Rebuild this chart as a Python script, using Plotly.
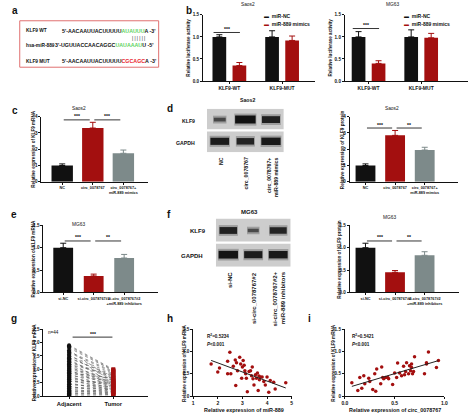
import plotly.graph_objects as go
import numpy as np

W, H = 474, 419
def X(px): return px / W
def Y(py): return 1 - py / H

BLACK = '#111111'
RED = '#a30f0f'
GRAY = '#7d8a8a'
FONT = 'Liberation Sans, Arial, sans-serif'

# ---------------- data ----------------
b_groups = ['KLF9-WT', 'KLF9-MUT']
b_series = ['miR-NC', 'miR-889 mimics']
b_saos2_nc = [1.00, 1.00]
b_saos2_nc_err = [0.05, 0.14]
b_saos2_mim = [0.35, 0.92]
b_saos2_mim_err = [0.07, 0.10]
b_mg63_nc = [1.00, 1.00]
b_mg63_nc_err = [0.12, 0.16]
b_mg63_mim = [0.40, 0.98]
b_mg63_mim_err = [0.06, 0.10]

c_labels = ['NC', 'circ_0078767', 'circ_0078767+<br>miR-889 mimics']
c_values = [1.00, 3.30, 1.75]
c_err = [0.10, 0.35, 0.20]
c_sig = [(0, 1, '***', 3.8), (1, 2, '***', 3.8)]

d_labels = ['NC', 'circ_0078767', 'circ_0078767+<br>miR-889 mimics']
d_values = [1.00, 2.85, 1.95]
d_err = [0.10, 0.30, 0.17]
d_sig = [(0, 1, '***', 3.3), (1, 2, '**', 3.3)]

e_labels = ['si-NC', 'si-circ_0078767#2', 'si-circ_0078767#2<br>+miR-889 inhibitors']
e_values = [1.00, 0.37, 0.77]
e_err = [0.10, 0.04, 0.08]
e_sig = [(0, 1, '***', 1.15), (1, 2, '**', 1.15)]

f_values = [1.00, 0.45, 0.83]
f_err = [0.10, 0.04, 0.08]
f_sig = [(0, 1, '***', 1.15), (1, 2, '**', 1.15)]

blot_d_lanes = ['NC', 'circ_0078767', 'circ_0078767+<br>miR-889 mimics']
blot_d_klf9 = [0.30, 1.00, 0.80]
blot_d_gapdh = [0.85, 0.75, 0.90]
blot_f_lanes = ['si-NC', 'si-circ_0078767#2', 'si-circ_0078767#2+<br>miR-889 inhibitors']
blot_f_klf9 = [0.80, 0.25, 0.75]
blot_f_gapdh = [0.95, 0.85, 0.90]

g_groups = ['Adjacent', 'Tumor']
g_adjacent = [1.90, 1.86, 1.80, 1.71, 1.66, 1.62, 1.55, 1.51, 1.44, 1.41, 1.37, 1.30,
              1.28, 1.22, 1.19, 1.14, 1.11, 1.05, 1.02, 0.97, 0.95, 0.89, 0.86, 0.83,
              0.77, 0.75, 0.70, 0.65, 0.63, 0.57, 0.55, 0.50, 0.45, 0.43, 0.37, 0.35,
              0.30, 0.27, 0.21, 0.19, 0.13, 0.11, 0.07, 0.04]
g_tumor = [1.00, 0.97, 0.95, 0.61, 0.92, 0.88, 0.55, 0.84, 0.74, 0.80, 0.50, 0.71,
           0.66, 0.45, 0.78, 0.58, 0.41, 0.62, 0.52, 0.35, 0.48, 0.42, 0.68, 0.31,
           0.56, 0.25, 0.38, 0.44, 0.21, 0.33, 0.51, 0.16, 0.28, 0.36, 0.12, 0.23,
           0.30, 0.10, 0.18, 0.08, 0.26, 0.06, 0.14, 0.05]

h_x = [1.73, 2.00, 2.07, 2.40, 2.49, 2.40, 2.53, 2.63, 2.71, 2.76, 2.80, 2.89, 2.93,
       2.73, 3.00, 3.03, 3.07, 3.10, 3.13, 3.16, 3.20, 3.27, 3.33, 3.37, 3.40, 3.43,
       3.47, 3.53, 3.57, 3.61, 3.64, 3.67, 3.69, 3.73, 3.80, 3.87, 3.93, 4.00, 4.07,
       4.13, 4.27, 4.33, 4.76, 2.97]
h_y = [0.72, 0.54, 0.63, 0.50, 0.98, 0.78, 0.50, 0.67, 0.81, 0.75, 0.57, 0.87, 0.72,
       0.24, 0.65, 0.80, 0.69, 0.57, 0.50, 0.40, 0.10, 0.55, 0.57, 0.46, 0.65, 0.39,
       0.25, 0.48, 0.40, 0.52, 0.13, 0.45, 0.37, 0.43, 0.43, 0.33, 0.25, 0.43, 0.09,
       0.35, 0.31, 0.16, 0.30, 0.40]
i_x = [0.07, 0.13, 0.15, 0.17, 0.19, 0.20, 0.24, 0.25, 0.28, 0.30, 0.31, 0.32, 0.36,
       0.37, 0.38, 0.39, 0.41, 0.43, 0.48, 0.50, 0.52, 0.53, 0.55, 0.59, 0.60, 0.61,
       0.62, 0.64, 0.65, 0.66, 0.67, 0.67, 0.68, 0.69, 0.70, 0.80, 0.82, 0.84, 0.92,
       0.94, 0.82, 0.57, 0.44]
i_y = [0.30, 0.13, 0.42, 0.18, 0.46, 0.28, 0.40, 0.33, 0.15, 0.50, 0.11, 0.61, 0.28,
       0.65, 0.42, 0.39, 0.42, 0.42, 0.26, 0.52, 0.42, 0.74, 0.52, 0.67, 0.48, 0.55,
       0.75, 0.50, 0.68, 0.57, 0.72, 0.64, 0.50, 0.55, 0.88, 0.50, 0.75, 0.99, 0.64,
       0.80, 0.72, 0.46, 0.39]

fig = go.Figure()
layout = dict(width=W, height=H, margin=dict(l=0, r=0, t=0, b=0),
              paper_bgcolor='white', plot_bgcolor='rgba(0,0,0,0)', barmode='overlay',
              showlegend=False, font=dict(family=FONT, color=BLACK))
annotations = []
shapes = []

def ann(text, px, py, size=5, xa='center', ya='middle', angle=0, bold=True,
        color=BLACK, align='center'):
    annotations.append(dict(
        text=text, x=X(px), y=Y(py), xref='paper', yref='paper', xanchor=xa, yanchor=ya,
        textangle=angle, showarrow=False, align=align,
        font=dict(size=size, family=FONT, color=color, weight='bold' if bold else 'normal')))

def axes(n, xpx, ypx, xrange, yrange, xticks=None, xtext=None, ytickvals=None,
         ytext=None, visible=True, xtickfs=5, ytickfs=4.6):
    common = dict(showline=visible, linecolor=BLACK, linewidth=1, ticks='outside' if visible else '',
                  ticklen=2, tickwidth=1, tickcolor=BLACK, showgrid=False, zeroline=False,
                  visible=visible, fixedrange=True, tickangle=0)
    xs = 'xaxis' if n == 1 else f'xaxis{n}'
    ys = 'yaxis' if n == 1 else f'yaxis{n}'
    layout[xs] = dict(common, domain=[X(xpx[0]), X(xpx[1])], range=xrange,
                      anchor=f'y{"" if n == 1 else n}', tickvals=xticks, ticktext=xtext,
                      tickfont=dict(size=xtickfs, family=FONT, color=BLACK, weight='bold'))
    layout[ys] = dict(common, domain=[Y(ypx[0]), Y(ypx[1])], range=yrange,
                      anchor=f'x{"" if n == 1 else n}', tickvals=ytickvals, ticktext=ytext,
                      tickfont=dict(size=ytickfs, family=FONT, color=BLACK, weight='bold'))
    return ('x' if n == 1 else f'x{n}'), ('y' if n == 1 else f'y{n}')

def bar(xa, ya, xs, vals, errs, color, width, offset=None):
    fig.add_trace(go.Bar(x=xs, y=vals, width=width, offset=offset, xaxis=xa, yaxis=ya,
                         marker=dict(color=color, line=dict(width=0)),
                         error_y=dict(type='data', array=errs, arrayminus=[0] * len(errs),
                                      symmetric=False, color=color, thickness=1, width=3)))

def sig(xa, ya, x0, x1, h, txt):
    fig.add_trace(go.Scatter(x=[x0, x1], y=[h, h], mode='lines', xaxis=xa, yaxis=ya,
                             line=dict(color='#000000', width=0.8), hoverinfo='skip'))
    annotations.append(dict(text=txt, x=(x0 + x1) / 2, y=h, xref=xa, yref=ya, showarrow=False,
                            xanchor='center', yanchor='bottom', yshift=-1.5,
                            font=dict(size=5, family=FONT, color='#000000', weight='bold')))

# ---------------- panel a ----------------
shapes.append(dict(type='rect', xref='paper', yref='paper', x0=X(17), x1=X(158), y0=Y(66), y1=Y(19),
                   line=dict(color='#e07070', width=1)))
G = '#5fd35f'
R = '#e8202a'
ann('KLF9 WT', 21, 29, 4.8, xa='left')
ann(f"5'-AACAAUUACUUUUU<span style='color:{G}'>AUAUUU</span>A -3'", 58, 29, 5.3, xa='left')
ann('| | | | | |', 138, 37, 4.5, xa='center', bold=False)
ann('hsa-miR-889', 21, 44, 4.8, xa='left')
ann(f"3'-UGUUACCAACAGGC<span style='color:{G}'>UAUAAAU</span>U -5'", 51, 44, 5.3, xa='left')
ann('KLF9 MUT', 21, 60, 4.8, xa='left')
ann(f"5'-AACAAUUACUUUUU<span style='color:{R}'>CGCAGC</span>A -3'", 58, 60, 5.3, xa='left')

# ---------------- panel b ----------------
for n, xpx, xr, nc, nce, mm, mme, title, tx, legx, sy in [
        (1, (203, 317), [-0.5, 1.63], b_saos2_nc, b_saos2_nc_err, b_saos2_mim, b_saos2_mim_err, 'Saos2', 249, 263, 1.1),
        (2, (347, 472), [-0.45, 1.89], b_mg63_nc, b_mg63_nc_err, b_mg63_mim, b_mg63_mim_err, 'MG63', 395, 405, 1.19)]:
    xa, ya = axes(n, xpx, (80, 13), xr, [0, 1.5], xticks=[0, 1], xtext=b_groups,
                  ytickvals=[0, 0.5, 1.0, 1.5], ytext=['0.0', '0.5', '1.0', '1.5'])
    pos = list(range(len(b_groups)))
    bar(xa, ya, pos, nc, nce, BLACK, 0.26, offset=-0.32)
    bar(xa, ya, pos, mm, mme, RED, 0.26, offset=0.06)
    sig(xa, ya, -0.3, 0.2, sy, '***')
    ann(title, tx, 3, 4.8, bold=False)
    ann('Relative luciferase activity', xpx[0] - 15, 46, 4.6, angle=-90)
    for k, (lbl, col) in enumerate(zip(b_series, [BLACK, RED])):
        ann(f"<span style='color:{col}'>▬</span>  {lbl}", legx, 14 + 8 * k, 5, xa='left')

# ---------------- bar panels c, d, e, f ----------------
three_colors = [BLACK, RED, GRAY]
for n, xpx, ypx, xr, yr, ytv, ytt, labels, vals, errs, sigs, title, tpos, ytitle, ytx, bw in [
        (3, (39, 147), (182, 116), [-0.68, 2.8], [0, 4], [0, 1, 2, 3, 4], ['0', '1', '2', '3', '4'],
         c_labels, c_values, c_err, c_sig, 'Saos2', (77, 108), 'Relative expression of KLF9 mRNA', 31, 0.7),
        (5, (352, 462), (182, 116), [-0.53, 3.13], [0, 4], [0, 1, 2, 3, 4], ['0', '1', '2', '3', '4'],
         d_labels, d_values, d_err, d_sig, 'Saos2', (395, 108), 'Relative expression of KLF9 protein', 344, 0.67),
        (6, (41, 157), (294, 226), [-0.65, 3.1], [0, 1.5], [0, 0.5, 1, 1.5], ['0.0', '0.5', '1.0', '1.5'],
         e_labels, e_values, e_err, e_sig, 'MG63', (77, 225), 'Relative expression of KLF9 mRNA', 31, 0.65),
        (8, (352, 463), (294, 226), [-0.53, 3.17], [0, 1.5], [0, 0.5, 1, 1.5], ['0.0', '0.5', '1.0', '1.5'],
         e_labels, f_values, f_err, f_sig, 'MG63', (392, 218), 'Relative expression of KLF9 protein', 342, 0.67)]:
    xa, ya = axes(n, xpx, ypx, xr, yr, xticks=list(range(len(labels))), xtext=labels,
                  ytickvals=ytv, ytext=ytt, xtickfs=3.8)
    for k in range(len(vals)):
        bar(xa, ya, [k], [vals[k]], [errs[k]], three_colors[k], bw)
    for (i0, i1, txt, hgt) in sigs:
        sig(xa, ya, i0 + 0.05, i1 - 0.1, hgt, txt)
    ann(title, tpos[0], tpos[1], 4.8, bold=False)
    ann(ytitle, ytx, (ypx[0] + ypx[1]) / 2, 4.6, angle=-90)

# ---------------- blots d, f ----------------
def blot(n, xpx, ypx, lanes, klf9, gapdh, title, tpos, rowlab, labsize, laneTop):
    xa, ya = axes(n, xpx, ypx, [-0.5, len(lanes) - 0.5], [0, 2], visible=False)
    for y0, y1 in [(1.05, 2.0), (0.0, 0.95)]:
        shapes.append(dict(type='rect', xref=xa, yref=ya, x0=-0.5, x1=len(lanes) - 0.5,
                           y0=y0, y1=y1, fillcolor='#cdcdcd', line=dict(width=0), layer='below'))
    for row, ints in [(1.5, klf9), (0.5, gapdh)]:
        for k, I in enumerate(ints):
            hw = 0.16 + 0.24 * I
            th = 2 + 6 * I
            fig.add_trace(go.Scatter(x=[k - hw - 0.03, k + hw + 0.03], y=[row, row], mode='lines',
                                     xaxis=xa, yaxis=ya, opacity=0.3,
                                     line=dict(color='#333333', width=th + 4), hoverinfo='skip'))
            fig.add_trace(go.Scatter(x=[k - hw, k + hw], y=[row, row], mode='lines',
                                     xaxis=xa, yaxis=ya, opacity=0.45 + 0.55 * I,
                                     line=dict(color='#111111', width=th), hoverinfo='skip'))
    ann(title, tpos[0], tpos[1], labsize, bold=True)
    ann('KLF9', rowlab[0][0], rowlab[0][1], labsize)
    ann('GAPDH', rowlab[1][0], rowlab[1][1], labsize)
    lane_px = [xpx[0] + (k + 0.5) * (xpx[1] - xpx[0]) / len(lanes) for k in range(len(lanes))]
    for k, lbl in enumerate(lanes):
        ann(lbl, lane_px[k] + 1, laneTop, labsize, angle=-90, ya='top', align='right')

blot(4, (207, 285), (152, 108), blot_d_lanes, blot_d_klf9, blot_d_gapdh, 'Saos2', (248, 99),
     [(188, 120), (185, 143)], 5.2, 155)
blot(7, (216, 292), (268, 219), blot_f_lanes, blot_f_klf9, blot_f_gapdh, 'MG63', (250, 213),
     [(198, 232), (192, 257)], 6, 271)

# ---------------- panel g ----------------
xa, ya = axes(9, (41, 147), (399, 331), [-0.58, 1.78], [0, 2.5], xticks=[0, 1], xtext=g_groups,
              ytickvals=[0, 0.5, 1, 1.5, 2, 2.5], ytext=['0.0', '0.5', '1.0', '1.5', '2.0', '2.5'],
              xtickfs=5.8)
lx, ly = [], []
for a, t in zip(g_adjacent, g_tumor):
    lx += [0, 1, None]
    ly += [a, t, None]
fig.add_trace(go.Scatter(x=lx, y=ly, mode='lines', xaxis=xa, yaxis=ya,
                         line=dict(color='#555555', width=0.6, dash='dot'), hoverinfo='skip'))
fig.add_trace(go.Scatter(x=[0] * len(g_adjacent), y=g_adjacent, mode='markers', xaxis=xa, yaxis=ya,
                         marker=dict(color=BLACK, size=4, symbol='circle')))
fig.add_trace(go.Scatter(x=[1] * len(g_tumor), y=g_tumor, mode='markers', xaxis=xa, yaxis=ya,
                         marker=dict(color=RED, size=4, symbol='square')))
sig(xa, ya, 0.08, 0.98, 2.2, '***')
ann('n=44', 44, 334, 4.6, xa='left', bold=False)
ann('Relative expression of KLF9 mRNA', 32, 365, 4.6, angle=-90)

# ---------------- panels h, i ----------------
for n, xpx, xr, xtv, xtt, xs, ys, r2, tx, ytx, xtitle, ptx in [
        (10, (193, 293), [1, 5], [1, 2, 3, 4, 5], ['1', '2', '3', '4', '5'], h_x, h_y, '0.5234', 205, 184,
         'Relative expression of miR-889', 245),
        (11, (347, 448), [0, 1.0], [0, 0.5, 1.0], ['0.0', '0.5', '1.0'], i_x, i_y, '0.5421', 352, 336,
         'Relative expression of circ_0078767', 398)]:
    xa, ya = axes(n, xpx, (399, 331), xr, [0, 1.5], xticks=xtv, xtext=xtt,
                  ytickvals=[0, 0.5, 1, 1.5], ytext=['0', '0.5', '1.0', '1.5'])
    fig.add_trace(go.Scatter(x=xs, y=ys, mode='markers', xaxis=xa, yaxis=ya,
                             marker=dict(color=RED, size=3.5)))
    k, b0 = np.polyfit(xs, ys, 1)
    lxs = [min(xs), max(xs)]
    fig.add_trace(go.Scatter(x=lxs, y=[k * v + b0 for v in lxs], mode='lines', xaxis=xa, yaxis=ya,
                             line=dict(color='#222222', width=1)))
    ann(f'R<sup>2</sup>={r2}', tx, 338, 4.6, xa='left')
    ann('<i>P</i><0.001', tx, 347, 4.6, xa='left')
    ann('Relative expression of KLF9 mRNA', ytx, 365, 4.6, angle=-90)
    ann(xtitle, ptx, 413, 5.4)

# ---------------- panel letters ----------------
for L, px, py in [('a', 7, 9), ('b', 184, 9), ('c', 7, 110), ('d', 164, 108), ('e', 6, 215),
                  ('f', 164, 215), ('g', 6, 320), ('h', 164, 320), ('i', 308, 320)]:
    ann(L, px, py, 10, xa='left')

layout['annotations'] = annotations
layout['shapes'] = shapes
fig.update_layout(**layout)
fig.write_html('out.html', config={'displayModeBar': False},
               post_script="document.body.style.margin='0';")
